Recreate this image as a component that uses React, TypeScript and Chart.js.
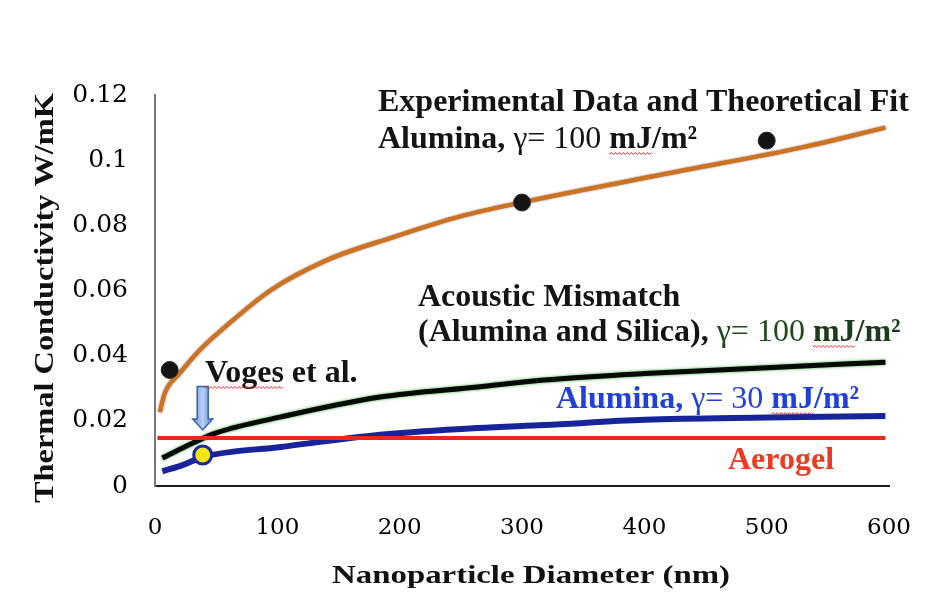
import React, { useEffect, useRef } from 'react';
import { Chart, registerables } from 'chart.js';

Chart.register(...registerables);

// ---------- data ----------
const xTickValues = [0, 100, 200, 300, 400, 500, 600];
const xTickLabels = ['0', '100', '200', '300', '400', '500', '600'];
const yTickValues = [0, 0.02, 0.04, 0.06, 0.08, 0.1, 0.12];
const yTickLabels = ['0', '0.02', '0.04', '0.06', '0.08', '0.1', '0.12'];

// Experimental data (black dots)
const expDiameter = [12, 300, 500];
const expConductivity = [0.0356, 0.087, 0.106];

// Theoretical fit, alumina gamma = 100 (orange)
const fitDiameter = [4, 8, 20, 36, 60, 95, 141, 195, 248, 298, 423, 530, 597];
const fitConductivity = [0.0227, 0.0285, 0.0345, 0.0415, 0.0497, 0.0602, 0.0694, 0.0764, 0.0826, 0.0869, 0.0962, 0.104, 0.11];

// Acoustic mismatch (alumina and silica), gamma = 100 (black / green)
const amDiameter = [6, 31, 50, 103, 184, 264, 318, 400, 500, 597];
const amConductivity = [0.0086, 0.0132, 0.0163, 0.0212, 0.0273, 0.0304, 0.0325, 0.0345, 0.0363, 0.038];

// Alumina, gamma = 30 (blue)
const al30Diameter = [6, 23, 39, 103, 184, 264, 318, 400, 500, 597];
const al30Conductivity = [0.0045, 0.0065, 0.0089, 0.012, 0.0157, 0.0178, 0.0187, 0.0203, 0.021, 0.0215];

// Aerogel (red)
const aeroDiameter = [2, 597];
const aeroConductivity = [0.0147, 0.0147];

// Voges et al. (yellow dot) and arrow pointing to it
const vogesDiameter = [39];
const vogesConductivity = [0.0095];
const arrowDiameter = 39;
const arrowConductivity = [0.0305, 0.0172];

// texts
const xTitle = 'Nanoparticle Diameter (nm)';
const yTitle = 'Thermal Conductivity W/mK';

const FONT = '"Liberation Serif", "Times New Roman", serif';

type Seg = { t: string; b?: boolean; c?: string; wavy?: boolean };

const toPts = (xs: number[], ys: number[]) => xs.map((x, i) => ({ x, y: ys[i] }));

function drawWavy(ctx: CanvasRenderingContext2D, x1: number, x2: number, y: number) {
  ctx.save();
  ctx.strokeStyle = '#e02a2a';
  ctx.lineWidth = 1;
  ctx.beginPath();
  let up = true;
  ctx.moveTo(x1, y);
  for (let x = x1 + 2; x <= x2; x += 2) {
    ctx.lineTo(x, up ? y - 1.5 : y + 0.5);
    up = !up;
  }
  ctx.stroke();
  ctx.restore();
}

function drawRich(ctx: CanvasRenderingContext2D, x: number, y: number, size: number, segs: Seg[]) {
  let cx = x;
  ctx.textAlign = 'left';
  ctx.textBaseline = 'alphabetic';
  for (const s of segs) {
    ctx.font = `${s.b === false ? 'normal' : 'bold'} ${size}px ${FONT}`;
    ctx.fillStyle = s.c || '#141414';
    ctx.fillText(s.t, cx, y);
    const w = ctx.measureText(s.t).width;
    if (s.wavy) drawWavy(ctx, cx, cx + w, y + 6);
    cx += w;
  }
}

function drawStretched(
  ctx: CanvasRenderingContext2D,
  text: string,
  x: number,
  y: number,
  size: number,
  targetW: number,
  rotate: boolean
) {
  ctx.save();
  ctx.font = `bold ${size}px ${FONT}`;
  const w = ctx.measureText(text).width;
  ctx.translate(x, y);
  if (rotate) ctx.rotate(-Math.PI / 2);
  ctx.scale(targetW / w, 1);
  ctx.textAlign = 'center';
  ctx.textBaseline = 'alphabetic';
  ctx.fillStyle = '#111';
  ctx.fillText(text, 0, 0);
  ctx.restore();
}

const glowPlugin = {
  id: 'glow',
  beforeDatasetDraw(chart: any, args: any) {
    const ds = chart.data.datasets[args.index];
    if (ds.glow) {
      const ctx = chart.ctx;
      ctx.save();
      ctx.shadowColor = ds.glow;
      ctx.shadowBlur = ds.glowBlur || 3;
    }
  },
  afterDatasetDraw(chart: any, args: any) {
    const ds = chart.data.datasets[args.index];
    if (ds.glow) chart.ctx.restore();
  },
};

const annotationPlugin = {
  id: 'annotations',
  afterDatasetsDraw(chart: any) {
    const ctx: CanvasRenderingContext2D = chart.ctx;
    const xs = chart.scales.x;
    const ys = chart.scales.y;

    // arrow to Voges et al. point
    const px = xs.getPixelForValue(arrowDiameter);
    const y1 = ys.getPixelForValue(arrowConductivity[0]);
    const y2 = ys.getPixelForValue(arrowConductivity[1]);
    const sh = 5.5;
    const hh = 10;
    const hl = 11;
    ctx.save();
    const g = ctx.createLinearGradient(px - hh, 0, px + hh, 0);
    g.addColorStop(0, '#6f9be0');
    g.addColorStop(0.5, '#b5d0f4');
    g.addColorStop(1, '#5a86d0');
    ctx.fillStyle = g;
    ctx.strokeStyle = '#3660b0';
    ctx.lineWidth = 1.5;
    ctx.beginPath();
    ctx.moveTo(px - sh, y1);
    ctx.lineTo(px + sh, y1);
    ctx.lineTo(px + sh, y2 - hl);
    ctx.lineTo(px + hh, y2 - hl);
    ctx.lineTo(px, y2);
    ctx.lineTo(px - hh, y2 - hl);
    ctx.lineTo(px - sh, y2 - hl);
    ctx.closePath();
    ctx.fill();
    ctx.stroke();
    ctx.restore();

    ctx.save();
    const S = 32;
    drawRich(ctx, 378, 111, S, [{ t: 'Experimental Data and Theoretical Fit' }]);
    drawRich(ctx, 378, 148, S, [
      { t: 'Alumina, ' },
      { t: 'γ= 100 ', b: false },
      { t: 'mJ', wavy: true },
      { t: '/m²' },
    ]);
    drawRich(ctx, 418, 306, S, [{ t: 'Acoustic Mismatch' }]);
    drawRich(ctx, 418, 341, S, [
      { t: '(Alumina and Silica), ' },
      { t: 'γ= 100 ', b: false, c: '#1c4a1c' },
      { t: 'mJ', c: '#1c3a1c', wavy: true },
      { t: '/m²', c: '#1c3a1c' },
    ]);
    drawRich(ctx, 205, 382, S, [{ t: 'Voges', wavy: true }, { t: ' et al.' }]);
    drawRich(ctx, 556, 408, S, [
      { t: 'Alumina, ', c: '#2040dc' },
      { t: 'γ= 30 ', b: false, c: '#2040dc' },
      { t: 'mJ', c: '#2040dc', wavy: true },
      { t: '/m²', c: '#2040dc' },
    ]);
    drawRich(ctx, 728, 469, S, [{ t: 'Aerogel', c: '#ee3a22' }]);

    // axis titles
    drawStretched(ctx, xTitle, 531, 583, 26, 398, false);
    drawStretched(ctx, yTitle, 53, 298, 27, 410, true);
    ctx.restore();
  },
};

export default function App() {
  const ref = useRef<HTMLCanvasElement | null>(null);

  useEffect(() => {
    document.body.style.margin = '0';
    const canvas = ref.current;
    if (!canvas) return;

    const chart = new Chart(canvas, {
      type: 'scatter',
      data: {
        datasets: [
          {
            label: 'Experimental Data',
            data: toPts(expDiameter, expConductivity),
            backgroundColor: '#141414',
            borderColor: '#2a2a30',
            borderWidth: 1,
            pointRadius: 8.5,
            showLine: false,
          },
          {
            label: 'Voges et al.',
            data: toPts(vogesDiameter, vogesConductivity),
            backgroundColor: '#f4e614',
            borderColor: '#1a2a9c',
            borderWidth: 3,
            pointRadius: 9,
            showLine: false,
          },
          {
            label: 'Aerogel',
            data: toPts(aeroDiameter, aeroConductivity),
            borderColor: '#e8281a',
            borderWidth: 4,
            pointRadius: 0,
            showLine: true,
          },
          {
            label: 'Alumina, γ= 100 mJ/m² (fit)',
            data: toPts(fitDiameter, fitConductivity),
            borderColor: '#cf741e',
            borderWidth: 4,
            pointRadius: 0,
            showLine: true,
            cubicInterpolationMode: 'monotone',
            glow: 'rgba(110,25,0,0.95)',
            glowBlur: 2,
          } as any,
          {
            label: 'Acoustic Mismatch',
            data: toPts(amDiameter, amConductivity),
            borderColor: '#080808',
            borderWidth: 5,
            pointRadius: 0,
            showLine: true,
            cubicInterpolationMode: 'monotone',
            glow: 'rgba(20,160,20,0.9)',
            glowBlur: 3,
          } as any,
          {
            label: 'Alumina, γ= 30 mJ/m²',
            data: toPts(al30Diameter, al30Conductivity),
            borderColor: '#18249a',
            borderWidth: 6,
            pointRadius: 0,
            showLine: true,
            cubicInterpolationMode: 'monotone',
          },
        ],
      },
      options: {
        responsive: false,
        animation: false,
        devicePixelRatio: 1,
        layout: { padding: { top: 95, right: 42, left: 0, bottom: 0 } },
        plugins: {
          legend: { display: false },
          tooltip: { enabled: false },
        },
        scales: {
          x: {
            type: 'linear',
            min: 0,
            max: 600,
            grid: { display: false, drawTicks: false },
            border: { display: true, color: '#1e1e1e', width: 2 },
            afterFit: (s: any) => {
              s.height = 106;
            },
            afterBuildTicks: (s: any) => {
              s.ticks = xTickValues.map((v) => ({ value: v }));
            },
            ticks: {
              padding: 28,
              color: '#000',
              font: { family: '"DejaVu Serif", serif', size: 23 },
              callback: (_v: any, i: number) => xTickLabels[i],
              maxRotation: 0,
            },
          },
          y: {
            type: 'linear',
            min: 0,
            max: 0.12,
            grid: { display: false, drawTicks: false },
            border: { display: true, color: '#777', width: 2 },
            afterFit: (s: any) => {
              s.width = 155;
            },
            afterBuildTicks: (s: any) => {
              s.ticks = yTickValues.map((v) => ({ value: v }));
            },
            ticks: {
              padding: 27,
              color: '#000',
              font: { family: '"DejaVu Serif", serif', size: 25 },
              callback: (_v: any, i: number) => yTickLabels[i],
            },
          },
        },
      },
      plugins: [glowPlugin, annotationPlugin],
    });

    return () => chart.destroy();
  }, []);

  return (
    <div style={{ width: 939, height: 592, background: '#fff' }}>
      <canvas ref={ref} width={939} height={592} style={{ display: 'block' }} />
    </div>
  );
}
